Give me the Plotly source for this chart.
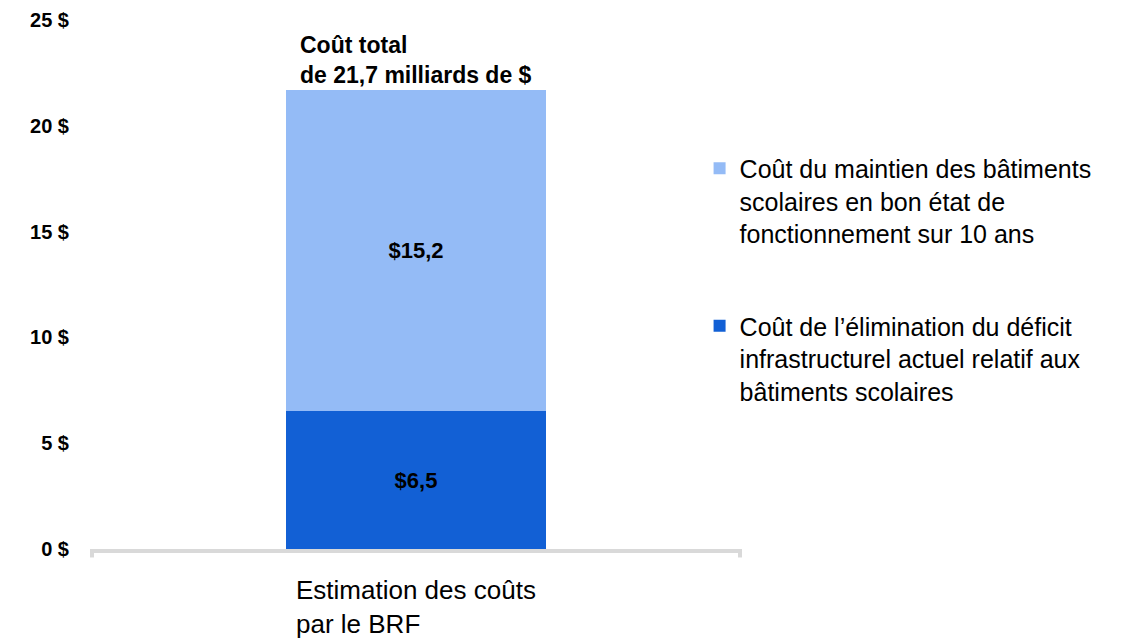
import plotly.graph_objects as go

categories = ["Estimation des coûts<br>par le BRF"]
deficit_values = [6.5]
maintien_values = [15.2]
deficit_labels = ["$6,5"]
maintien_labels = ["$15,2"]
total_label = "Coût total<br>de 21,7 milliards de $"
y_tick_values = [0, 5, 10, 15, 20, 25]
y_tick_labels = ["0 $", "5 $", "10 $", "15 $", "20 $", "25 $"]
name_deficit = "Coût de l’élimination du déficit<br>infrastructurel actuel relatif aux<br>bâtiments scolaires"
name_maintien = "Coût du maintien des bâtiments<br>scolaires en bon état de<br>fonctionnement sur 10 ans"

FONT = "Liberation Sans, Arial, sans-serif"
LIGHT = "#94bbf6"
DARK = "#1260d5"
AXIS_GRAY = "#d9d9d9"

fig = go.Figure()
fig.add_trace(go.Bar(
    x=categories, y=deficit_values, name=name_deficit,
    marker=dict(color=DARK, line=dict(width=0)),
    text=deficit_labels, textposition="inside", insidetextanchor="middle",
    textfont=dict(family=FONT, size=22, color="#000000", weight="bold"),
    width=0.4, legendgroup="a", legendrank=2, hoverinfo="skip",
))
fig.add_trace(go.Bar(
    x=categories, y=maintien_values, name=name_maintien,
    marker=dict(color=LIGHT, line=dict(width=0)),
    text=maintien_labels, textposition="inside", insidetextanchor="middle",
    textfont=dict(family=FONT, size=22, color="#000000", weight="bold"),
    width=0.4, legendgroup="b", legendrank=1, hoverinfo="skip",
))

total = deficit_values[0] + maintien_values[0]
fig.add_annotation(
    x=categories[0], y=total, xref="x", yref="y",
    text="<b>" + total_label + "</b>", showarrow=False,
    xanchor="center", yanchor="bottom", align="left", yshift=0,
    font=dict(family=FONT, size=23, color="#000000"),
)
fig.add_annotation(
    x=categories[0], y=0, xref="x", yref="y",
    text=categories[0], showarrow=False,
    xanchor="center", yanchor="top", align="left", xshift=0, yshift=-24,
    font=dict(family=FONT, size=26, color="#000000"),
)

# end caps of the baseline
for xp in (0, 1):
    fig.add_shape(type="line", xref="paper", yref="paper",
                  x0=xp, x1=xp, y0=0, y1=-0.016,
                  line=dict(color=AXIS_GRAY, width=4))

fig.update_layout(
    width=1145, height=640,
    barmode="stack", bargap=0,
    paper_bgcolor="white", plot_bgcolor="white",
    margin=dict(l=84, r=413, t=12, b=99, autoexpand=False),
    font=dict(family=FONT, color="#000000"),
    showlegend=True,
    legend=dict(
        x=0.604, xref="container", xanchor="left",
        y=0.785, yref="container", yanchor="top",
        traceorder="grouped", tracegroupgap=57,
        valign="top",
        font=dict(family=FONT, size=25, color="#000000"),
        bgcolor="rgba(0,0,0,0)",
    ),
    xaxis=dict(
        type="category", range=[-0.5, 0.5],
        showticklabels=False, ticks="", showgrid=False, zeroline=False,
        showline=True, linecolor=AXIS_GRAY, linewidth=4,
    ),
    yaxis=dict(
        range=[0, 25], tickmode="array", tickvals=y_tick_values, ticktext=y_tick_labels,
        showgrid=False, zeroline=False, showline=False, ticks="",
        ticklabelstandoff=22,
        tickfont=dict(family=FONT, size=20, color="#000000", weight="bold"),
    ),
)

fig.write_html("out.html")
